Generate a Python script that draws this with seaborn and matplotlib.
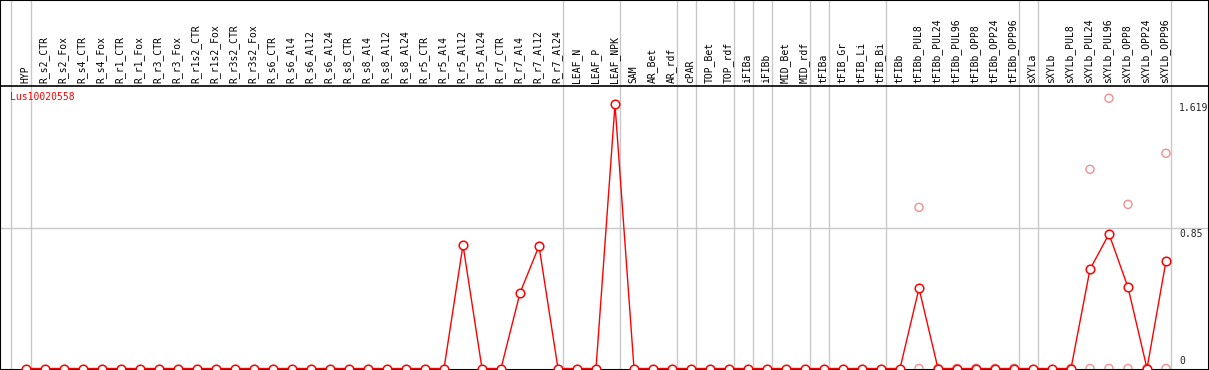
import matplotlib
matplotlib.use("Agg")
import matplotlib.pyplot as plt
import pandas as pd
import seaborn as sns

labels = [
    "HYP",
    "R_s2_CTR", "R_s2_Fox", "R_s4_CTR", "R_s4_Fox", "R_r1_CTR", "R_r1_Fox",
    "R_r3_CTR", "R_r3_Fox", "R_r1s2_CTR", "R_r1s2_Fox", "R_r3s2_CTR", "R_r3s2_Fox",
    "R_s6_CTR", "R_s6_Al4", "R_s6_Al12", "R_s6_Al24",
    "R_s8_CTR", "R_s8_Al4", "R_s8_Al12", "R_s8_Al24",
    "R_r5_CTR", "R_r5_Al4", "R_r5_Al12", "R_r5_Al24",
    "R_r7_CTR", "R_r7_Al4", "R_r7_Al12", "R_r7_Al24",
    "LEAF_N", "LEAF_P", "LEAF_NPK", "SAM", "AR_Bet", "AR_rdf", "cPAR",
    "TOP_Bet", "TOP_rdf", "iFIBa", "iFIBb", "MID_Bet", "MID_rdf",
    "tFIBa", "tFIB_Gr", "tFIB_Li", "tFIB_Bi", "tFIBb",
    "tFIBb_PUL8", "tFIBb_PUL24", "tFIBb_PUL96", "tFIBb_OPP8", "tFIBb_OPP24", "tFIBb_OPP96",
    "sXYLa", "sXYLb",
    "sXYLb_PUL8", "sXYLb_PUL24", "sXYLb_PUL96", "sXYLb_OPP8", "sXYLb_OPP24", "sXYLb_OPP96",
]

# mean expression per sample (zero unless listed)
nonzero = {
    "R_r5_Al12": 0.747,
    "R_r7_Al4": 0.457,
    "R_r7_Al12": 0.741,
    "LEAF_NPK": 1.598,
    "tFIBb_PUL8": 0.485,
    "sXYLb_PUL24": 0.600,
    "sXYLb_PUL96": 0.814,
    "sXYLb_OPP8": 0.491,
    "sXYLb_OPP96": 0.650,
}
means = [nonzero.get(lab, 0.0) for lab in labels]

# replicate values shown as faint points
rep_samples = [
    "tFIBb_PUL8", "tFIBb_PUL24", "tFIBb_PUL96", "tFIBb_OPP8", "tFIBb_OPP24", "tFIBb_OPP96",
    "sXYLb_PUL8", "sXYLb_PUL24", "sXYLb_PUL96", "sXYLb_OPP8", "sXYLb_OPP24", "sXYLb_OPP96",
]
rep1 = [0.975, 0, 0, 0, 0, 0, 0, 1.205, 1.635, 0.993, 0, 1.302]
rep2 = [0, 0, 0, 0, 0, 0, 0, 0, 0, 0, 0, 0]

# last sample of each group (separator drawn after it)
group_ends = [0, 28, 31, 34, 35, 37, 38, 39, 41, 42, 45, 52, 53, 60]

gene = "Lus10020558"
ytick_vals = [1.619, 0.85, 0]
ytick_text = ["1.619", "0.85", "0"]

sns.set_theme(style="white")
plt.rcParams["font.family"] = ["DejaVu Sans Mono"]

RED = "#ff0000"
PINK = "#f09090"
GREY = "#c8c8c8"

pos = {lab: i for i, lab in enumerate(labels)}
df = pd.DataFrame({"x": range(len(labels)), "value": means})
reps = pd.DataFrame({
    "x": [pos[s] for s in rep_samples] * 2,
    "value": rep1 + rep2,
})

fig = plt.figure(figsize=(12.09, 3.70), dpi=100)
ax = fig.add_axes([0, 0, 1, 1])

# pixel mapping: x = 26 + 19*i, y(0) = 368.5 px, 165.3 px per unit
ax.set_xlim(-26 / 19, (1209 - 26) / 19)
ax.set_ylim(-1.5 / 165.3, 368.5 / 165.3)
ax.set_xticks([])
ax.set_yticks([])
for sp in ax.spines.values():
    sp.set_color("black")
    sp.set_linewidth(1.5)

ax.axvline(-0.8, color=GREY, lw=1, zorder=0)
for g in group_ends:
    ax.axvline(g + 0.25, color=GREY, lw=1, zorder=0)
ax.axhline(0.85, color=GREY, lw=1, zorder=0)
header_y = (368.5 - 85.5) / 165.3
ax.axhline(header_y, color="black", lw=1.2, zorder=1)

sns.scatterplot(data=reps, x="x", y="value", ax=ax, marker="o", s=34,
                facecolor="none", edgecolor=PINK, linewidth=1, zorder=2)
sns.lineplot(data=df, x="x", y="value", ax=ax, color=RED, lw=1, errorbar=None,
             marker="o", ms=6.2, markerfacecolor="white", markeredgecolor=RED,
             markeredgewidth=1.1, zorder=3)
ax.set_xlabel("")
ax.set_ylabel("")

label_y = (368.5 - 82.7) / 165.3
for i, lab in enumerate(labels):
    ax.text(i - 0.05, label_y, lab, rotation=90, ha="center", va="bottom",
            fontsize=7, color="black")

ax.text((10 - 26) / 19, (368.5 - 97) / 165.3, gene, color=RED, fontsize=7,
        ha="left", va="center")

tx = (1179 - 26) / 19
ax.text(tx, 1.606, ytick_text[0], fontsize=7, ha="left", va="top")
ax.text(tx, ytick_vals[1] - 0.005, ytick_text[1], fontsize=7, ha="left", va="top")
ax.text(tx, 0.015, ytick_text[2], fontsize=7, ha="left", va="bottom")

fig.savefig("out.png", dpi=100)
